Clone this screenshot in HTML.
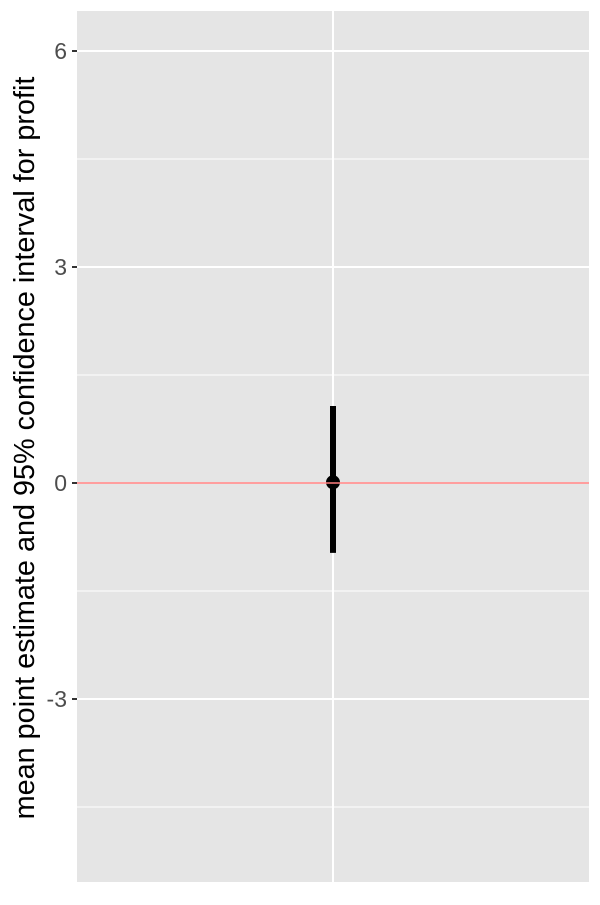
<!DOCTYPE html>
<html><head><meta charset="utf-8"><style>
body{margin:0;background:#fff;}
svg text{font-family:"Liberation Sans",Arial,sans-serif;}
</style></head><body>
<svg id="chart" width="600" height="900" xmlns="http://www.w3.org/2000/svg">
<rect x="0" y="0" width="600" height="900" fill="#fff"/>
<rect x="77" y="11" width="512" height="871" fill="#e5e5e5"/>
<g id="grid"></g>
<g id="marks"></g>
<g id="axis"></g>
<text transform="translate(34,448) rotate(-90)" text-anchor="middle" font-size="28.8" fill="#000">mean point estimate and 95% confidence interval for profit</text>
</svg>
<script>
const yTicks=[-3,0,3,6];
const yMinor=[-4.5,-1.5,1.5,4.5];
const estimates=[0.01];
const lower=[-0.97];
const upper=[1.07];
const refLine=[0];
const ns="http://www.w3.org/2000/svg";
const y=v=>483-72*v;
const x=i=>333;
function mk(tag,attrs,parent){const e=document.createElementNS(ns,tag);for(const k in attrs)e.setAttribute(k,attrs[k]);document.getElementById(parent).appendChild(e);return e;}
yMinor.forEach(v=>{const e=mk('line',{x1:77,x2:589,y1:y(v),y2:y(v),stroke:'#fff','stroke-width':1},'grid');

});
yTicks.forEach(v=>{const e=mk('line',{x1:77,x2:589,y1:y(v),y2:y(v),stroke:'#fff','stroke-width':2},'grid');


const t=mk('line',{x1:72,x2:77,y1:y(v),y2:y(v),stroke:'#333','stroke-width':2},'axis');


const l=mk('text',{x:67,y:y(v)+8,'text-anchor':'end','font-size':23,fill:'#4d4d4d'},'axis');
l.textContent=v;

});
const vg=mk('line',{x1:333,x2:333,y1:11,y2:882,stroke:'#fff','stroke-width':2},'grid');


estimates.forEach((m,i)=>{
const b=mk('line',{x1:x(i),x2:x(i),y1:y(upper[i]),y2:y(lower[i]),stroke:'#000','stroke-width':6},'marks');


const c=mk('circle',{cx:x(i),cy:y(m),r:7,fill:'#000'},'marks');

});
refLine.forEach(v=>{const r=mk('line',{x1:77,x2:589,y1:y(v),y2:y(v),stroke:'#ff7f7f','stroke-width':1.5},'marks');

});
</script>
</body></html>
